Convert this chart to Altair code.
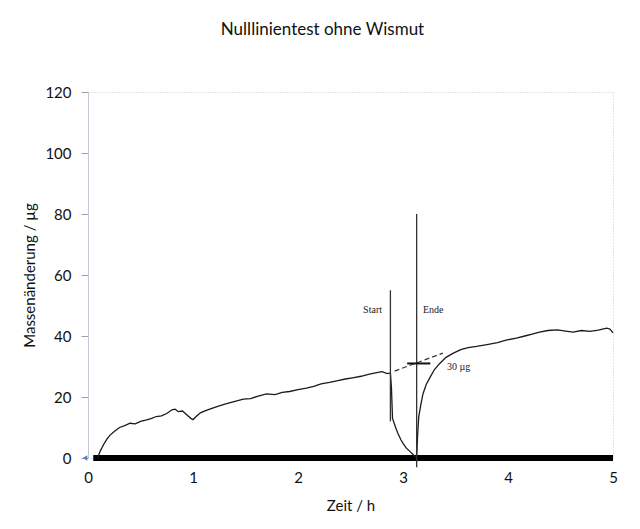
import altair as alt
import pandas as pd

# main trace (Zeit / h, Massenänderung / µg)
t_vals = [0.09, 0.12, 0.15, 0.18, 0.21, 0.25, 0.30, 0.35, 0.40, 0.45, 0.50, 0.55, 0.60, 0.65,
          0.70, 0.75, 0.80, 0.83, 0.86, 0.90, 0.94, 0.98, 1.00, 1.03, 1.07, 1.12, 1.18, 1.25,
          1.32, 1.40, 1.48, 1.55, 1.62, 1.70, 1.78, 1.85, 1.92, 2.00, 2.08, 2.15, 2.22, 2.30,
          2.38, 2.45, 2.52, 2.60, 2.68, 2.75, 2.80, 2.85, 2.88,
          2.89, 2.90, 2.93, 2.95, 2.98, 3.00, 3.03, 3.07, 3.10, 3.12,
          3.13, 3.14, 3.15, 3.17, 3.19, 3.22, 3.26, 3.30, 3.35, 3.41, 3.48, 3.55, 3.62, 3.70,
          3.80, 3.90, 3.99, 4.08, 4.16, 4.23, 4.30, 4.38, 4.47, 4.55, 4.62, 4.70, 4.78, 4.86,
          4.94, 4.97, 5.00]
m_vals = [0.0, 2.5, 4.5, 6.2, 7.5, 8.7, 10.0, 10.6, 11.4, 11.2, 12.0, 12.4, 12.9, 13.6,
          13.8, 14.6, 15.8, 16.0, 15.2, 15.4, 14.2, 13.0, 12.6, 13.6, 14.8, 15.5, 16.3, 17.1,
          17.8, 18.6, 19.3, 19.5, 20.3, 21.0, 20.8, 21.5, 21.8, 22.4, 22.9, 23.5, 24.3, 24.8,
          25.4, 25.9, 26.3, 26.8, 27.5, 28.0, 28.3, 27.7, 27.9,
          23.0, 13.0, 10.0, 8.2, 6.0, 4.8, 3.3, 2.0, 1.0, 0.3,
          0.5, 8.0, 13.5, 17.5, 21.0, 24.0, 26.6, 29.0, 31.0, 33.0, 34.4, 35.5, 36.2, 36.6,
          37.2, 37.8, 38.7, 39.3, 40.0, 40.6, 41.3, 41.8, 42.0, 41.6, 41.3, 41.8, 41.5, 41.9,
          42.6, 42.3, 41.0]

# vertical event markers
ev_x = [2.88, 3.13]
ev_y0 = [12, -3]
ev_y1 = [55, 80]

# annotation labels
lab_text = ["Start", "Ende", "30 µg"]
lab_x = [2.62, 3.19, 3.42]
lab_y = [48.5, 48.5, 29.8]

# extrapolation (dashed) and step marker
dash_x = [2.92, 3.38]
dash_y = [28.5, 34.4]
step_x = [3.04, 3.26]
step_y = [31, 31]

# baseline bar
base_x = [0.05, 5.0]

FONT = "Lato"

df = pd.DataFrame({"t": t_vals, "m": m_vals, "i": list(range(len(t_vals)))})
ev = pd.DataFrame({"x": ev_x, "y0": ev_y0, "y1": ev_y1})
lab = pd.DataFrame({"text": lab_text, "x": lab_x, "y": lab_y})
dash = pd.DataFrame({"x": [dash_x[0]], "x2": [dash_x[1]], "y": [dash_y[0]], "y2": [dash_y[1]]})
step = pd.DataFrame({"x": [step_x[0]], "x2": [step_x[1]], "y": [step_y[0]]})
base = pd.DataFrame({"x": [base_x[0]], "x2": [base_x[1]], "y": [0]})
marker = pd.DataFrame({"x": [0], "y": [0]})

xs = alt.Scale(domain=[0, 5], nice=False)
ys = alt.Scale(domain=[0, 120], nice=False)

xax = alt.Axis(values=[0, 1, 2, 3, 4, 5], format="d", title="Zeit / h", ticks=False, domain=False,
               grid=False, labelFlush=False, labelFontSize=15, labelFont=FONT, labelColor="#111",
               labelPadding=12,
               titleFont=FONT, titleFontSize=15, titleFontWeight="normal", titleColor="#111",
               titlePadding=13)
yax = alt.Axis(values=[0, 20, 40, 60, 80, 100, 120], format="d", title="Massenänderung /  µg",
               grid=False, labelFlush=False, labelFontSize=15, labelFont=FONT, labelColor="#111",
               labelPadding=10, tickSize=7, tickColor="#9aa3ad", domainColor="#c3cad3",
               titleFont=FONT, titleFontSize=15, titleFontWeight="normal", titleColor="#111",
               titlePadding=7)

base_bar = alt.Chart(base).mark_rule(color="black", strokeWidth=6).encode(
    x=alt.X("x:Q", scale=xs, axis=xax), x2="x2:Q",
    y=alt.Y("y:Q", scale=ys, axis=yax))

line = alt.Chart(df).mark_line(color="#1a1a1a", strokeWidth=1.3).encode(
    x=alt.X("t:Q", scale=xs), y=alt.Y("m:Q", scale=ys), order="i:Q")

rules = alt.Chart(ev).mark_rule(color="#333", strokeWidth=1.3).encode(
    x="x:Q", y="y0:Q", y2="y1:Q")

dashed = alt.Chart(dash).mark_rule(color="#333", strokeWidth=1.2, strokeDash=[5, 3]).encode(
    x="x:Q", x2="x2:Q", y="y:Q", y2="y2:Q")

stepm = alt.Chart(step).mark_rule(color="#111", strokeWidth=2).encode(
    x="x:Q", x2="x2:Q", y="y:Q")

texts = alt.Chart(lab).mark_text(font="Liberation Serif", fontSize=10, color="#222",
                                 align="left", baseline="middle").encode(
    x="x:Q", y="y:Q", text="text:N")

mark = alt.Chart(marker).mark_point(shape="triangle-left", filled=True, color="#4f81bd",
                                    size=28, opacity=1, xOffset=-3).encode(x="x:Q", y="y:Q")

chart = alt.layer(base_bar, line, rules, dashed, stepm, texts, mark).properties(
    width=525, height=366,
    title=alt.TitleParams("Nulllinientest ohne Wismut", font=FONT, fontSize=17,
                          fontWeight="normal", color="#111", anchor="middle", dx=-28, offset=46),
    autosize=alt.AutoSizeParams(type="none"),
    padding={"left": 80, "top": 84, "right": 16, "bottom": 63},
).configure_view(stroke="#c8c8c8", strokeDash=[1, 2], strokeWidth=1)

chart.save("out.html", embed_options={"renderer": "svg", "actions": False})
